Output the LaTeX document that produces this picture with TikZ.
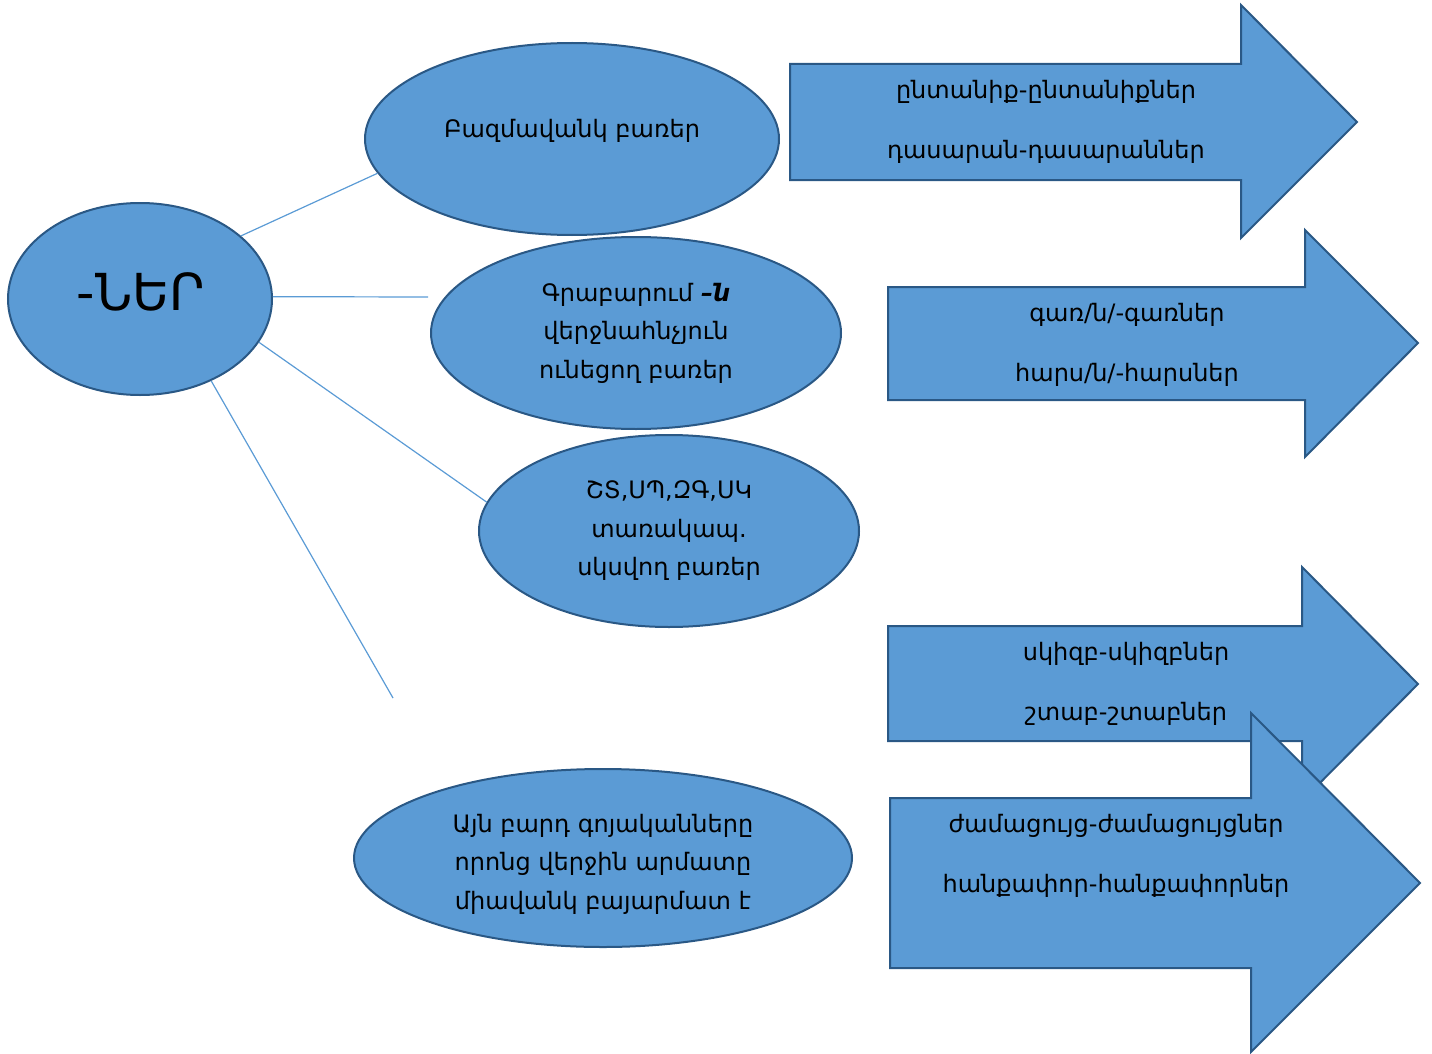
\documentclass[tikz,border=0pt]{standalone}
\usepackage{fontspec}
\setmainfont{DejaVu Sans}
\usetikzlibrary{shapes.geometric}
\definecolor{fillblue}{HTML}{5B9BD5}
\definecolor{edgeblue}{HTML}{2A5885}
\definecolor{lineblue}{HTML}{5B9BD5}
\tikzset{
  oval/.style={ellipse, draw=edgeblue, fill=fillblue, line width=2pt, inner sep=0pt},
  bigarrow/.style={draw=edgeblue, fill=fillblue, line width=2pt, line join=miter},
  txt/.style={align=center, inner sep=0pt, font=\fontsize{24}{38.5}\selectfont},
  arrtxt/.style={align=center, inner sep=0pt, font=\fontsize{24}{60}\selectfont},
  link/.style={draw=lineblue, line width=1.2pt}
}
\begin{document}
\begin{tikzpicture}[x=1pt,y=-1pt]
\useasboundingbox (0,0) rectangle (1432,1054);
% ellipses
\node[oval, minimum width=264pt, minimum height=192pt] (c) at (140,299) {};
\node[font=\fontsize{51}{56}\selectfont, inner sep=0pt] (ct) at (141,292) {-ՆԵՐ};
\node[oval, minimum width=414pt, minimum height=192pt] (e1) at (572,139) {};
\node[txt] (t1) at (572,131) {Բազմավանկ բառեր};
\node[oval, minimum width=410pt, minimum height=192pt] (e2) at (636,333) {};
\node[txt] (t2) at (636,333) {Գրաբարում \textbf{\textit{–ն}}\\վերջնահնչյուն\\ունեցող բառեր};
\node[oval, minimum width=380pt, minimum height=192pt] (e3) at (669,531) {};
\node[txt] (t3) at (669,531) {ՇՏ,ՍՊ,ԶԳ,ՍԿ\\տառակապ.\\սկսվող բառեր};
\node[oval, minimum width=498pt, minimum height=178pt] (e4) at (603,858) {};
\node[txt] (t4) at (603,864) {Այն բարդ գոյականները\\որոնց վերջին արմատը\\միավանկ բայարմատ է};
% connectors
\coordinate (l2end) at (428,297);
\coordinate (l4end) at (393,698);
\draw[link] (c.32) -- (e1.190);
\draw[link] (c.1) -- (l2end);
\draw[link] (c.-20) -- (e3.171.7);
\draw[link] (c.-49.5) -- (l4end);
% arrows
\draw[bigarrow] (790,64) -- (1241,64) -- (1241,5) -- (1357,122) -- (1241,238) -- (1241,180) -- (790,180) -- cycle;
\node[arrtxt] (a1) at (1046,122) {ընտանիք-ընտանիքներ\\դասարան-դասարաններ};
\draw[bigarrow] (888,287) -- (1305,287) -- (1305,230) -- (1418,343) -- (1305,457) -- (1305,400) -- (888,400) -- cycle;
\node[arrtxt] (a2) at (1127,345) {գառ/ն/-գառներ\\հարս/ն/-հարսներ};
\draw[bigarrow] (888,626) -- (1302,626) -- (1302,567) -- (1418,684) -- (1302,801) -- (1302,741) -- (888,741) -- cycle;
\node[arrtxt] (a3) at (1126,684) {սկիզբ-սկիզբներ\\շտաբ-շտաբներ};
\draw[bigarrow] (890,798) -- (1251,798) -- (1251,713) -- (1420,883) -- (1251,1052) -- (1251,968) -- (890,968) -- cycle;
\node[arrtxt] (a4) at (1116,856) {ժամացույց-ժամացույցներ\\հանքափոր-հանքափորներ};
\end{tikzpicture}
\end{document}
